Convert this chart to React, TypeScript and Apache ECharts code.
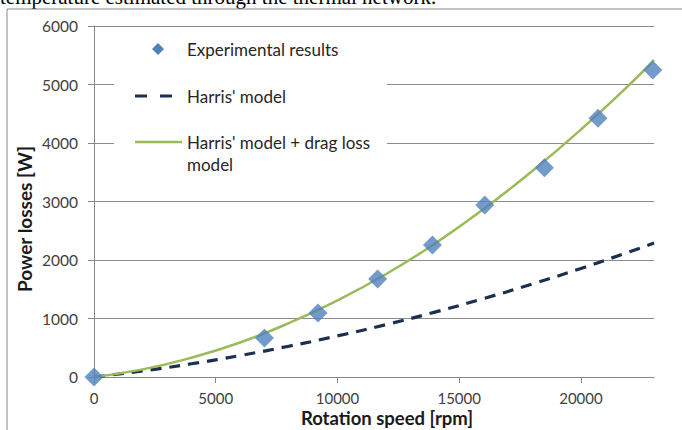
import React, { useEffect, useRef } from "react";
import * as echarts from "echarts";

const speedsExp = [0, 7000, 9200, 11650, 13900, 16050, 18500, 20700, 22950];
const lossesExp = [0, 665, 1095, 1675, 2255, 2940, 3575, 4425, 5250];

const speedsModel = [0, 2000, 4000, 6000, 8000, 10000, 12000, 14000, 16000, 18000, 20000, 22000, 23000];
const harris = [0, 104, 226, 367, 526, 702, 896, 1109, 1341, 1589, 1856, 2141, 2290];
const harrisDrag = [0, 130, 330, 590, 920, 1310, 1760, 2280, 2870, 3520, 4230, 5000, 5420];

const xTicks = [0, 5000, 10000, 15000, 20000];

const FONT = "Lato";

export default function App() {
  const ref = useRef<HTMLDivElement>(null);
  useEffect(() => {
    if (!ref.current) return;
    const chart = echarts.init(ref.current, null, { renderer: "svg" });
    const pair = (xs: number[], ys: number[]) => xs.map((x, i) => [x, ys[i]]);
    const legendFont = `17px ${FONT}`;
    chart.setOption({
      animation: false,
      backgroundColor: "#ffffff",
      grid: { left: 94, right: 28, top: 26, bottom: 53 },
      xAxis: {
        type: "value",
        min: 0,
        max: 23000,
        interval: 5000,
        axisLine: { show: true, lineStyle: { color: "#868686", width: 1 } },
        axisTick: { show: true, length: 6, customValues: xTicks, lineStyle: { color: "#868686" } },
        axisLabel: {
          customValues: xTicks,
          fontFamily: FONT,
          fontSize: 15,
          color: "#404040",
          margin: 13,
          formatter: (v: number) => String(v),
        },
        splitLine: { show: false },
      },
      yAxis: {
        type: "value",
        min: 0,
        max: 6000,
        interval: 1000,
        axisLine: { show: true, lineStyle: { color: "#868686", width: 1 } },
        axisTick: { show: true, length: 6, lineStyle: { color: "#868686" } },
        axisLabel: {
          fontFamily: FONT,
          fontSize: 15.5,
          color: "#404040",
          margin: 16,
          formatter: (v: number) => String(v),
        },
        splitLine: { show: true, lineStyle: { color: "#8c8c8c", width: 1 } },
      },
      series: [
        {
          name: "Harris' model",
          type: "line",
          data: pair(speedsModel, harris),
          smooth: true,
          showSymbol: false,
          lineStyle: { color: "#1b2f4e", width: 3.2, type: [11, 8] },
          z: 3,
        },
        {
          name: "Harris' model + drag loss model",
          type: "line",
          data: pair(speedsModel, harrisDrag),
          smooth: true,
          showSymbol: false,
          lineStyle: { color: "#9bbb59", width: 2.5 },
          z: 4,
        },
        {
          name: "Experimental results",
          type: "scatter",
          data: pair(speedsExp, lossesExp),
          symbol: "diamond",
          symbolSize: 19,
          clip: false,
          itemStyle: { color: "#4f81bd" },
          z: 5,
        },
      ],
      graphic: [
        {
          type: "text",
          left: 0,
          top: -14,
          silent: true,
          style: {
            text: "temperature estimated through the thermal network.",
            font: "21px 'Liberation Serif'",
            fill: "#000",
          },
        },
        {
          type: "rect",
          shape: { x: 7, y: 9, width: 700, height: 500 },
          style: { fill: "none", stroke: "#8a8a8a", lineWidth: 1 },
          silent: true,
        },
        {
          type: "text",
          x: 387,
          y: 418,
          style: {
            text: "Rotation speed [rpm]",
            font: `bold 18.5px ${FONT}`,
            fill: "#1a1a1a",
            align: "center",
            verticalAlign: "middle",
          },
        },
        {
          type: "text",
          x: 24,
          y: 219,
          rotation: Math.PI / 2,
          style: {
            text: "Power losses [W]",
            font: `bold 19px ${FONT}`,
            fill: "#1a1a1a",
            align: "center",
            verticalAlign: "middle",
          },
        },
        {
          type: "rect",
          shape: { x: 114, y: 30, width: 273, height: 152 },
          style: { fill: "#ffffff" },
          silent: true,
          z: 10,
        },
        {
          type: "polygon",
          shape: { points: [[158, 43], [164, 49], [158, 55], [152, 49]] },
          style: { fill: "#4f81bd" },
          z: 11,
        },
        {
          type: "text",
          x: 187,
          y: 49,
          style: { text: "Experimental results", font: legendFont, fill: "#262626", verticalAlign: "middle" },
          z: 11,
        },
        {
          type: "line",
          shape: { x1: 135, y1: 96, x2: 173, y2: 96 },
          style: { stroke: "#1b2f4e", lineWidth: 3.2, lineDash: [12, 13] },
          z: 11,
        },
        {
          type: "text",
          x: 187,
          y: 96,
          style: { text: "Harris' model", font: legendFont, fill: "#262626", verticalAlign: "middle" },
          z: 11,
        },
        {
          type: "line",
          shape: { x1: 135, y1: 142, x2: 182, y2: 142 },
          style: { stroke: "#9bbb59", lineWidth: 2.5 },
          z: 11,
        },
        {
          type: "text",
          x: 187,
          y: 142,
          style: { text: "Harris' model + drag loss", font: legendFont, fill: "#262626", verticalAlign: "middle" },
          z: 11,
        },
        {
          type: "text",
          x: 187,
          y: 164,
          style: { text: "model", font: legendFont, fill: "#262626", verticalAlign: "middle" },
          z: 11,
        },
      ],
    });
    return () => chart.dispose();
  }, []);
  return (
    <div
      ref={ref}
      style={{ position: "fixed", left: 0, top: 0, width: 682, height: 430 }}
    />
  );
}
